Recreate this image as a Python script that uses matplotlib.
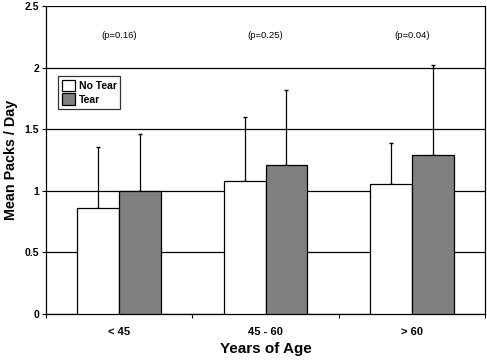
import numpy as np
import matplotlib
matplotlib.use("Agg")
import matplotlib.pyplot as plt

plt.rcParams['font.family'] = ['Liberation Sans', 'DejaVu Sans']

age_groups = ["< 45", "45 - 60", "> 60"]
no_tear = [0.86, 1.08, 1.06]
no_tear_err = [0.50, 0.52, 0.33]
tear = [1.00, 1.21, 1.29]
tear_err = [0.46, 0.61, 0.73]
p_values = ["(p=0.16)", "(p=0.25)", "(p=0.04)"]

fig = plt.figure(figsize=(4.87, 3.61), dpi=100)
ax = fig.add_axes([0.0945, 0.130, 0.9015, 0.853])

x = np.arange(len(age_groups))
w = 0.285
ax.bar(x - w / 2, no_tear, w, color="white", edgecolor="black", linewidth=0.9, zorder=3)
ax.bar(x + w / 2, tear, w, color="#808080", edgecolor="black", linewidth=0.9, zorder=3)
ax.errorbar(x - w / 2, no_tear, yerr=[np.zeros(3), no_tear_err], fmt="none",
            ecolor="black", elinewidth=0.9, capsize=1.5, zorder=2)
ax.errorbar(x + w / 2, tear, yerr=[np.zeros(3), tear_err], fmt="none",
            ecolor="black", elinewidth=0.9, capsize=1.5, zorder=2)

for xi, p in zip(x, p_values):
    ax.text(xi, 2.26, p, ha="center", va="center", fontsize=6.8)

ax.set_xlim(-0.5, 2.5)
ax.set_ylim(0, 2.5)
ax.set_yticks([0, 0.5, 1, 1.5, 2, 2.5])
ax.set_yticklabels(["0", "0.5", "1", "1.5", "2", "2.5"], fontweight="bold", fontsize=7.5)
ax.yaxis.grid(True, color="black", linewidth=0.9, zorder=0)
ax.set_axisbelow(True)

ax.set_xticks([-0.5, 0.5, 1.5, 2.5])
ax.set_xticklabels([])
ax.set_xticks(x, minor=True)
ax.set_xticklabels(age_groups, minor=True, fontweight="bold", fontsize=8)
ax.tick_params(axis="x", which="minor", length=0, pad=9)
ax.tick_params(axis="x", which="major", length=3, direction="out")
ax.tick_params(axis="y", length=3, direction="out", pad=2)

ax.spines["top"].set_visible(False)
for s in ["left", "right", "bottom"]:
    ax.spines[s].set_linewidth(0.9)

ax.set_xlabel("Years of Age", fontweight="bold", fontsize=11, labelpad=4)
ax.set_ylabel("Mean Packs / Day", fontweight="bold", fontsize=10.3, labelpad=5)

leg = ax.legend(["No Tear", "Tear"], loc="upper left", bbox_to_anchor=(0.027, 0.773),
                prop={"weight": "bold", "size": 7.5}, frameon=True,
                fancybox=False, edgecolor="black", handlelength=1.3, handleheight=1.35,
                handletextpad=0.35, borderpad=0.35, labelspacing=0.2, borderaxespad=0)
leg.get_frame().set_linewidth(0.9)

fig.savefig("out.png", dpi=100)
